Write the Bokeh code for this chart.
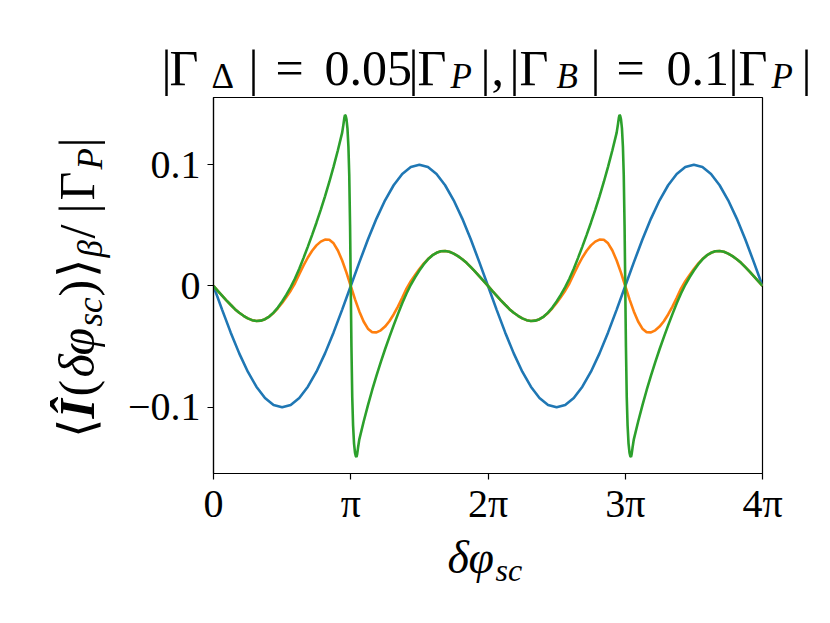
from bokeh.plotting import figure
from bokeh.models import Range1d, FixedTicker, CustomJSTickFormatter
from bokeh.layouts import column, row
from bokeh.core.properties import value
from bokeh.embed import file_html
from bokeh.resources import INLINE

# ---------------- data (x in units of pi) ----------------
x_blue = [i / 16 for i in range(65)]
blue = [0, -0.0195, -0.0383, -0.0556, -0.0707, -0.0831, -0.0924, -0.0981, -0.1,
        -0.0981, -0.0924, -0.0831, -0.0707, -0.0556, -0.0383, -0.0195, 0,
        0.0195, 0.0383, 0.0556, 0.0707, 0.0831, 0.0924, 0.0981, 0.1,
        0.0981, 0.0924, 0.0831, 0.0707, 0.0556, 0.0383, 0.0195, 0,
        -0.0195, -0.0383, -0.0556, -0.0707, -0.0831, -0.0924, -0.0981, -0.1,
        -0.0981, -0.0924, -0.0831, -0.0707, -0.0556, -0.0383, -0.0195, 0,
        0.0195, 0.0383, 0.0556, 0.0707, 0.0831, 0.0924, 0.0981, 0.1,
        0.0981, 0.0924, 0.0831, 0.0707, 0.0556, 0.0383, 0.0195, 0]

x_orange = [i / 32 for i in range(129)]
orange = [0, -0.0040, -0.0079, -0.0118, -0.0155, -0.0191, -0.0221, -0.0246, -0.0267,
          -0.0282, -0.0289, -0.0286, -0.0274, -0.0252, -0.0222, -0.0184, -0.0140,
          -0.0090, -0.0039, 0.0022, 0.0098, 0.0170, 0.0235, 0.0291, 0.0335, 0.0366,
          0.0383, 0.0382, 0.0352, 0.0293, 0.0210, 0.0110, 0,
          -0.0110, -0.0210, -0.0293, -0.0352, -0.0382, -0.0383, -0.0366, -0.0335,
          -0.0291, -0.0235, -0.0170, -0.0098, -0.0022, 0.0039, 0.0090, 0.0140,
          0.0184, 0.0222, 0.0252, 0.0274, 0.0286, 0.0289, 0.0282, 0.0267, 0.0246,
          0.0221, 0.0191, 0.0155, 0.0118, 0.0079, 0.0040, 0,
          -0.0040, -0.0079, -0.0118, -0.0155, -0.0191, -0.0221, -0.0246, -0.0267,
          -0.0282, -0.0289, -0.0286, -0.0274, -0.0252, -0.0222, -0.0184, -0.0140,
          -0.0090, -0.0039, 0.0022, 0.0098, 0.0170, 0.0235, 0.0291, 0.0335, 0.0366,
          0.0383, 0.0382, 0.0352, 0.0293, 0.0210, 0.0110, 0,
          -0.0110, -0.0210, -0.0293, -0.0352, -0.0382, -0.0383, -0.0366, -0.0335,
          -0.0291, -0.0235, -0.0170, -0.0098, -0.0022, 0.0039, 0.0090, 0.0140,
          0.0184, 0.0222, 0.0252, 0.0274, 0.0286, 0.0289, 0.0282, 0.0267, 0.0246,
          0.0221, 0.0191, 0.0155, 0.0118, 0.0079, 0.0040, 0]

green_x = [0, 0.03125, 0.0625, 0.09375, 0.125, 0.15625, 0.1875, 0.21875, 0.25,
           0.28125, 0.3125, 0.34375, 0.375, 0.40625, 0.4375, 0.46875, 0.5, 0.53125,
           0.5625, 0.59375, 0.625, 0.65625, 0.6875, 0.71875, 0.75, 0.78125, 0.8125,
           0.84375, 0.875, 0.90625, 0.9375,
           0.947, 0.953, 0.958, 0.963, 0.969, 0.976, 0.983, 0.989, 0.995, 1.0,
           1.005, 1.011, 1.017, 1.024, 1.031, 1.037, 1.042, 1.047, 1.053,
           1.0625, 1.09375, 1.125, 1.15625, 1.1875, 1.21875, 1.25, 1.28125, 1.3125,
           1.34375, 1.375, 1.40625, 1.4375, 1.46875, 1.5, 1.53125, 1.5625, 1.59375,
           1.625, 1.65625, 1.6875, 1.71875, 1.75, 1.78125, 1.8125, 1.84375, 1.875,
           1.90625, 1.9375, 1.96875, 2.0,
           2.03125, 2.0625, 2.09375, 2.125, 2.15625, 2.1875, 2.21875, 2.25,
           2.28125, 2.3125, 2.34375, 2.375, 2.40625, 2.4375, 2.46875, 2.5, 2.53125,
           2.5625, 2.59375, 2.625, 2.65625, 2.6875, 2.71875, 2.75, 2.78125, 2.8125,
           2.84375, 2.875, 2.90625, 2.9375,
           2.947, 2.953, 2.958, 2.963, 2.969, 2.976, 2.983, 2.989, 2.995, 3.0,
           3.005, 3.011, 3.017, 3.024, 3.031, 3.037, 3.042, 3.047, 3.053,
           3.0625, 3.09375, 3.125, 3.15625, 3.1875, 3.21875, 3.25, 3.28125, 3.3125,
           3.34375, 3.375, 3.40625, 3.4375, 3.46875, 3.5, 3.53125, 3.5625, 3.59375,
           3.625, 3.65625, 3.6875, 3.71875, 3.75, 3.78125, 3.8125, 3.84375, 3.875,
           3.90625, 3.9375, 3.96875, 4.0]

green_y = [0, -0.0040, -0.0079, -0.0118, -0.0155, -0.0191, -0.0221, -0.0246, -0.0267,
           -0.0282, -0.0289, -0.0286, -0.0274, -0.0252, -0.0220, -0.0178, -0.0128,
           -0.0072, -0.0010, 0.0062, 0.0142, 0.0232, 0.0325, 0.0422, 0.0522, 0.0628,
           0.0740, 0.0858, 0.0985, 0.1120, 0.1265,
           0.1335, 0.1385, 0.141, 0.1405, 0.1375, 0.130, 0.115, 0.092, 0.05, 0,
           -0.05, -0.092, -0.115, -0.130, -0.1375, -0.1405, -0.141, -0.1385, -0.1335,
           -0.1265, -0.1120, -0.0985, -0.0858, -0.0740, -0.0628, -0.0522, -0.0422,
           -0.0325, -0.0232, -0.0142, -0.0062, 0.0010, 0.0072, 0.0128, 0.0178,
           0.0220, 0.0252, 0.0274, 0.0286, 0.0289, 0.0282, 0.0267, 0.0246, 0.0221,
           0.0191, 0.0155, 0.0118, 0.0079, 0.0040, 0,
           -0.0040, -0.0079, -0.0118, -0.0155, -0.0191, -0.0221, -0.0246, -0.0267,
           -0.0282, -0.0289, -0.0286, -0.0274, -0.0252, -0.0220, -0.0178, -0.0128,
           -0.0072, -0.0010, 0.0062, 0.0142, 0.0232, 0.0325, 0.0422, 0.0522, 0.0628,
           0.0740, 0.0858, 0.0985, 0.1120, 0.1265,
           0.1335, 0.1385, 0.141, 0.1405, 0.1375, 0.130, 0.115, 0.092, 0.05, 0,
           -0.05, -0.092, -0.115, -0.130, -0.1375, -0.1405, -0.141, -0.1385, -0.1335,
           -0.1265, -0.1120, -0.0985, -0.0858, -0.0740, -0.0628, -0.0522, -0.0422,
           -0.0325, -0.0232, -0.0142, -0.0062, 0.0010, 0.0072, 0.0128, 0.0178,
           0.0220, 0.0252, 0.0274, 0.0286, 0.0289, 0.0282, 0.0267, 0.0246, 0.0221,
           0.0191, 0.0155, 0.0118, 0.0079, 0.0040, 0]

x_ticks = [0, 1, 2, 3, 4]
y_ticks = [-0.1, 0, 0.1]

FONT = "Liberation Serif"
BIG, SUB = 50, 35
MID = 0.33   # offset of the text anchor above the baseline, in em

# page layout (pixels)
PAGE_W = 830
TITLE_H = 96
MID_TOP, MID_BOT = 96, 531
YLAB_W = 112
XLAB_H = 76
FR_L, FR_R, FR_T, FR_B = 213, 762, 97, 473   # plot frame in page pixels

X0, X1 = 0.0, 4.0
Y0, Y1 = -0.1547, 0.1555


def blank_fig(w, h, xr, yr, bt=0, bb=0):
    f = figure(width=w, height=h, output_backend="svg", toolbar_location=None,
               x_range=xr, y_range=yr, x_axis_type=None, y_axis_type=None,
               min_border_left=0, min_border_right=0,
               min_border_top=bt, min_border_bottom=bb)
    f.outline_line_color = None
    f.xgrid.visible = False
    f.ygrid.visible = False
    f.background_fill_color = "white"
    f.border_fill_color = "white"
    return f


def put(f, txt, x, y, size, style="normal", angle=0.0):
    f.text(x=[x], y=[y], text=[txt], text_font=value(FONT),
           text_font_size=value(f"{size}px"), text_font_style=value(style),
           text_align="left", text_baseline="alphabetic", angle=angle,
           text_color="black")


# ---------- title strip ----------
title_fig = blank_fig(PAGE_W, TITLE_H, Range1d(0, PAGE_W), Range1d(TITLE_H, 0))
tb, ts = 84, 88
title_tokens = [
    ("|", 161, tb, BIG, "normal"), ("\u0393", 169, tb, BIG, "normal"),
    ("\u0394", 211, ts, SUB, "normal"), ("|", 248, tb, BIG, "normal"),
    ("=", 275, tb, BIG, "normal"), ("0.05", 324, tb, BIG, "normal"),
    ("|", 408, tb, BIG, "normal"), ("\u0393", 417, tb, BIG, "normal"),
    ("P", 450, ts, SUB, "italic"), ("|", 480, tb, BIG, "normal"),
    (",", 491, tb, BIG, "normal"), ("|", 509, tb, BIG, "normal"),
    ("\u0393", 519, tb, BIG, "normal"), ("B", 556, ts, SUB, "italic"),
    ("|", 590, tb, BIG, "normal"), ("=", 616, tb, BIG, "normal"),
    ("0.1", 666, tb, BIG, "normal"), ("|", 728, tb, BIG, "normal"),
    ("\u0393", 738, tb, BIG, "normal"), ("P", 771, ts, SUB, "italic"),
    ("|", 801, tb, BIG, "normal"),
]
for t, x, y, s, st in title_tokens:
    put(title_fig, t, x, y - MID * s, s, st)

# ---------- y label strip (frame aligned with the plot frame) ----------
mid_h = MID_BOT - MID_TOP
ylab_fig = blank_fig(YLAB_W, mid_h, Range1d(0, YLAB_W), Range1d(FR_B, FR_T),
                     bt=FR_T - MID_TOP, bb=MID_BOT - FR_B)
yb, ys = 93, 102
ang = 1.5707963
ylabel_tokens = [
    ("\u27e8", yb, 437, BIG, "normal"), ("\u00ce", yb, 418, BIG, "bold italic"),
    ("(", yb, 396, BIG, "normal"), ("\u03b4", yb, 377, BIG, "italic"),
    ("\u03c6", yb, 355, BIG, "italic"), ("sc", ys, 326, SUB, "italic"),
    (")", yb, 296, BIG, "normal"), ("\u27e9", yb, 277, BIG, "normal"),
    ("\u03b2", ys, 257, SUB, "italic"), ("/", yb, 238, BIG, "normal"),
    ("|", yb, 213, BIG, "normal"), ("\u0393", yb, 200, BIG, "normal"),
    ("P", ys, 169, SUB, "italic"), ("|", yb, 147, BIG, "normal"),
]
for t, x, y, s, st in ylabel_tokens:
    put(ylab_fig, t, x - MID * s, y, s, st, angle=ang)

# ---------- main plot ----------
main_w = PAGE_W - YLAB_W
p = figure(width=main_w, height=mid_h, output_backend="svg", toolbar_location=None,
           x_range=Range1d(X0, X1), y_range=Range1d(Y0, Y1),
           min_border_left=FR_L - YLAB_W, min_border_right=PAGE_W - FR_R,
           min_border_top=FR_T - MID_TOP, min_border_bottom=MID_BOT - FR_B)
p.title.text = ""
p.xgrid.visible = False
p.ygrid.visible = False
p.background_fill_color = "white"
p.border_fill_color = "white"
p.outline_line_color = "black"
p.outline_line_width = 1.2

p.line(x_blue, blue, line_color="#1f77b4", line_width=2.6)
p.line(x_orange, orange, line_color="#ff7f0e", line_width=2.6)
p.line(green_x, green_y, line_color="#2ca02c", line_width=2.6)

for ax in (p.xaxis[0], p.yaxis[0]):
    ax.axis_line_color = "black"
    ax.axis_line_width = 1.2
    ax.major_tick_line_color = "black"
    ax.major_tick_line_width = 1.2
    ax.major_tick_out = 6
    ax.major_tick_in = 0
    ax.minor_tick_line_color = None
    ax.major_label_text_font = FONT
    ax.major_label_text_font_size = "40px"
    ax.major_label_text_color = "black"

p.xaxis[0].ticker = FixedTicker(ticks=x_ticks)
p.yaxis[0].ticker = FixedTicker(ticks=y_ticks)
p.xaxis[0].formatter = CustomJSTickFormatter(
    code="if (tick == 0) return '0'; if (tick == 1) return '\u03c0'; return tick + '\u03c0';")
p.yaxis[0].formatter = CustomJSTickFormatter(
    code="if (Math.abs(tick) < 1e-9) return '0'; return (tick < 0 ? '\u2212' : '') + Math.abs(tick).toFixed(1);")
p.xaxis[0].major_label_standoff = 1
p.yaxis[0].major_label_standoff = 7

# ---------- x label strip ----------
xlab_fig = blank_fig(PAGE_W, XLAB_H, Range1d(0, PAGE_W), Range1d(MID_BOT + XLAB_H, MID_BOT))
XBIG, XSUB = 46, 32
xb, xs = 572.5, 580
for t, x, y, s, st in [("\u03b4", 447, xb, XBIG, "italic"),
                       ("\u03c6", 468, xb, XBIG, "italic"),
                       ("sc", 495, xs, XSUB, "italic")]:
    put(xlab_fig, t, x, y - MID * s, s, st)

layout = column(title_fig, row(ylab_fig, p, spacing=0), xlab_fig, spacing=0)
open("out.html", "w").write(file_html(layout, INLINE))
